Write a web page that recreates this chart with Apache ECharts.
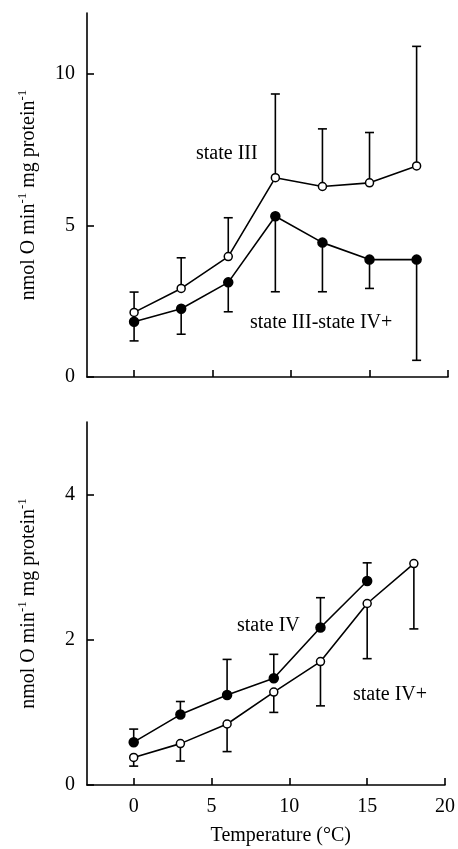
<!DOCTYPE html>
<html>
<head>
<meta charset="utf-8">
<script src="https://cdn.jsdelivr.net/npm/echarts@6/dist/echarts.min.js"></script>
<style>
  html, body { margin: 0; padding: 0; background: #fff; }
  #chart { width: 458px; height: 849px; }
</style>
</head>
<body>
<div id="chart"></div>
<script>
// temperatures (°C)
const temps = [0, 3, 6, 9, 12, 15, 18]
const tempsIV = [0, 3, 6, 9, 12, 15]

// top panel
const stateIII = [2.13, 2.92, 3.97, 6.57, 6.28, 6.40, 6.96]
const stateIIIUpper = [2.80, 3.93, 5.25, 9.33, 8.18, 8.06, 10.90]
const stateIIIminusIVp = [1.82, 2.25, 3.12, 5.30, 4.43, 3.87, 3.87]
const stateIIIminusIVpLower = [1.19, 1.41, 2.15, 2.81, 2.81, 2.92, 0.55]

// bottom panel
const stateIV = [0.59, 0.97, 1.24, 1.47, 2.17, 2.81]
const stateIVUpper = [0.77, 1.15, 1.73, 1.80, 2.58, 3.06]
const stateIVp = [0.38, 0.57, 0.84, 1.28, 1.70, 2.50, 3.05]
const stateIVpLower = [0.26, 0.33, 0.46, 1.00, 1.09, 1.74, 2.15]

const xTicks = [0, 5, 10, 15, 20]
const yTicksTop = [0, 5, 10]
const yTicksBottom = [0, 2, 4]

const serif = '"Liberation Serif", "DejaVu Serif", serif'
const black = '#000'

const zip = (xs, ys) => xs.map((x, i) => [x, ys[i]])
const zip3 = (xs, ys, es) => xs.map((x, i) => [x, ys[i], es[i]])

const chart = echarts.init(document.getElementById('chart'))

const errRender = (params, api) => {
  const p0 = api.coord([api.value(0), api.value(1)])
  const p1 = api.coord([api.value(0), api.value(2)])
  const w = 4.5
  const style = { stroke: black, lineWidth: 1.6 }
  return {
    type: 'group',
    children: [
      { type: 'line', shape: { x1: p0[0], y1: p0[1], x2: p1[0], y2: p1[1] }, style },
      { type: 'line', shape: { x1: p1[0] - w, y1: p1[1], x2: p1[0] + w, y2: p1[1] }, style }
    ]
  }
}

const yName = {
  rich: {
    n: { fontFamily: serif, fontSize: 20, color: black },
    s: { fontFamily: serif, fontSize: 13, color: black, verticalAlign: 'top', padding: [0, 0, 12, 0] }
  }
}
const yNameText = '{n|nmol O min}{s|-1}{n| mg protein}{s|-1}'

const xAxisBase = {
  type: 'value',
  min: -3,
  max: 20,
  splitLine: { show: false },
  axisLine: { onZero: false, lineStyle: { color: black, width: 1.6 } },
  axisTick: { inside: true, length: 7, customValues: xTicks, lineStyle: { color: black, width: 1.6 } }
}

const yAxisBase = {
  type: 'value',
  min: 0,
  splitLine: { show: false },
  axisLine: { show: true, onZero: false, lineStyle: { color: black, width: 1.6 } },
  axisTick: { inside: true, length: 7, lineStyle: { color: black, width: 1.6 } },
  axisLabel: { margin: 12, fontFamily: serif, fontSize: 20, color: black },
  name: yNameText,
  nameLocation: 'middle',
  nameGap: 46,
  nameTextStyle: yName
}

const lineSeries = (xIdx, data, filled) => ({
  type: 'line',
  xAxisIndex: xIdx,
  yAxisIndex: xIdx,
  data,
  symbol: 'circle',
  symbolSize: filled ? 9 : 8,
  z: 5,
  lineStyle: { color: black, width: 1.6 },
  itemStyle: { color: filled ? black : '#fff', borderColor: black, borderWidth: 1.5 },
  emphasis: { disabled: true },
  animation: false
})

// white rings round markers: the connecting lines stop just short of the circles
const haloSeries = (xIdx, data) => ({
  type: 'scatter',
  xAxisIndex: xIdx,
  yAxisIndex: xIdx,
  data,
  symbol: 'circle',
  symbolSize: 13,
  z: 4,
  itemStyle: { color: '#fff' },
  emphasis: { disabled: true },
  animation: false
})

const errSeries = (xIdx, data) => ({
  type: 'custom',
  xAxisIndex: xIdx,
  yAxisIndex: xIdx,
  data,
  renderItem: errRender,
  z: 4.5,
  animation: false
})

const textStyle = (text, x, y) => ({
  type: 'text',
  x,
  y,
  style: { text, fontFamily: serif, fontSize: 20, fill: black, verticalAlign: 'middle' }
})

chart.setOption({
  animation: false,
  grid: [
    { left: 87, right: 10, top: 13, height: 364 },
    { left: 87, right: 12, top: 422, height: 363 }
  ],
  xAxis: [
    { ...xAxisBase, gridIndex: 0, axisLabel: { show: false } },
    {
      ...xAxisBase,
      gridIndex: 1,
      axisLabel: { customValues: xTicks, margin: 12, fontFamily: serif, fontSize: 20, color: black }
    }
  ],
  yAxis: [
    {
      ...yAxisBase,
      gridIndex: 0,
      max: 12,
      axisTick: { ...yAxisBase.axisTick, customValues: yTicksTop },
      axisLabel: { ...yAxisBase.axisLabel, customValues: yTicksTop }
    },
    {
      ...yAxisBase,
      gridIndex: 1,
      max: 5,
      axisTick: { ...yAxisBase.axisTick, customValues: yTicksBottom },
      axisLabel: { ...yAxisBase.axisLabel, customValues: yTicksBottom }
    }
  ],
  series: [
    haloSeries(0, zip(temps, stateIII)),
    haloSeries(0, zip(temps, stateIIIminusIVp)),
    errSeries(0, zip3(temps, stateIII, stateIIIUpper)),
    errSeries(0, zip3(temps, stateIIIminusIVp, stateIIIminusIVpLower)),
    lineSeries(0, zip(temps, stateIII), false),
    lineSeries(0, zip(temps, stateIIIminusIVp), true),
    haloSeries(1, zip(tempsIV, stateIV)),
    haloSeries(1, zip(temps, stateIVp)),
    errSeries(1, zip3(tempsIV, stateIV, stateIVUpper)),
    errSeries(1, zip3(temps, stateIVp, stateIVpLower)),
    lineSeries(1, zip(tempsIV, stateIV), true),
    lineSeries(1, zip(temps, stateIVp), false)
  ],
  graphic: [
    textStyle('state III', 196, 154),
    textStyle('state III-state IV+', 250, 323),
    textStyle('state IV', 237, 626),
    textStyle('state IV+', 353, 695),
    {
      type: 'text',
      right: 107,
      top: 826,
      style: { text: 'Temperature (°C)', fontFamily: serif, fontSize: 20, fill: black }
    }
  ]
})
</script>
</body>
</html>
